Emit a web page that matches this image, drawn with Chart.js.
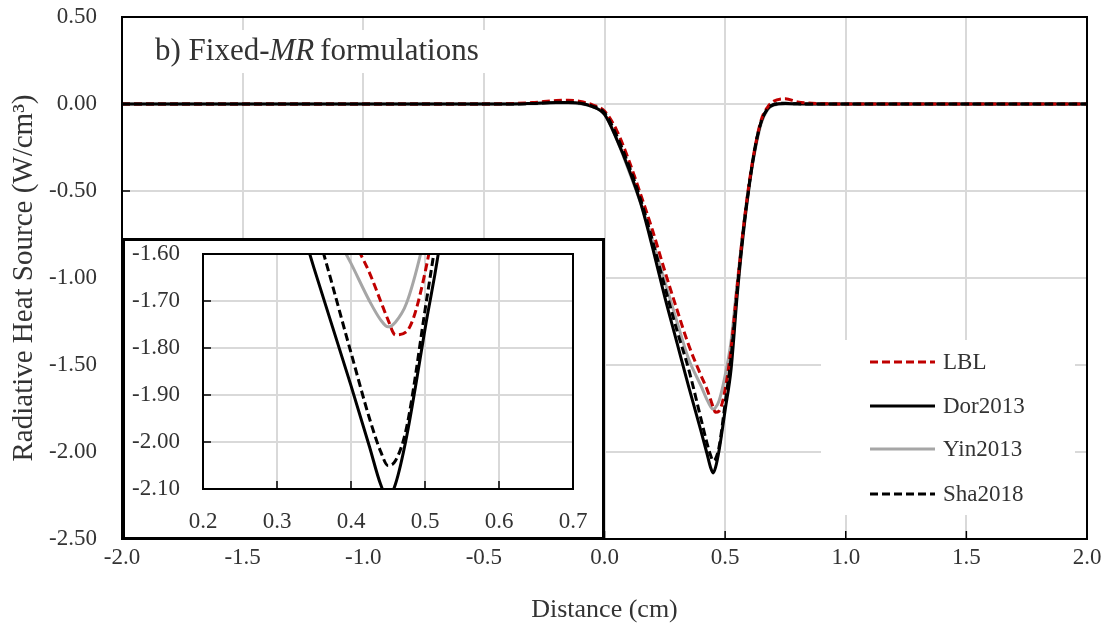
<!DOCTYPE html>
<html>
<head>
<meta charset="utf-8">
<script src="https://cdn.jsdelivr.net/npm/chart.js@4.4.1/dist/chart.umd.min.js"></script>
<style>
  html, body { margin: 0; padding: 0; background: #fff; }
  #wrap { position: relative; width: 1112px; height: 626px; }
  #mainChart { position: absolute; left: 0; top: 0; }
  #insetChart { position: absolute; left: 122px; top: 238px; }
</style>
</head>
<body>
<div id="wrap">
  <canvas id="mainChart" width="1112" height="626"></canvas>
  <canvas id="insetChart" width="483" height="302"></canvas>
</div>
<script>
// Distância (cm) - eixo x comum
const distancia = [-2.0, -1.5, -1.0, -0.5, -0.4, -0.3, -0.2, -0.15, -0.1, -0.05, 0.0, 0.05, 0.1, 0.15, 0.2, 0.25, 0.3, 0.35, 0.4, 0.425, 0.44, 0.45, 0.46, 0.475, 0.5, 0.525, 0.55, 0.575, 0.6, 0.625, 0.65, 0.675, 0.7, 0.75, 0.8, 0.9, 1.0, 1.5, 2.0];

// Fonte de calor radiativa (W/cm3) por formulação
const lbl     = [0, 0, 0, 0, 0.002, 0.008, 0.02, 0.022, 0.015, -0.005, -0.04, -0.15, -0.32, -0.52, -0.73, -0.96, -1.18, -1.39, -1.56, -1.64, -1.70, -1.74, -1.772, -1.765, -1.64, -1.40, -1.05, -0.72, -0.45, -0.24, -0.09, -0.02, 0.015, 0.03, 0.012, 0.002, 0, 0, 0];
const dor2013 = [0, 0, 0, 0, 0, 0.003, 0.008, 0.008, 0.004, -0.015, -0.06, -0.2, -0.37, -0.57, -0.83, -1.11, -1.37, -1.63, -1.88, -2.01, -2.09, -2.12, -2.09, -1.99, -1.76, -1.52, -1.1, -0.75, -0.47, -0.25, -0.1, -0.03, -0.005, 0.003, 0.001, 0, 0, 0, 0];
const yin2013 = [0, 0, 0, 0, 0, 0.002, 0.005, 0.005, 0.002, -0.015, -0.06, -0.2, -0.38, -0.57, -0.79, -1.02, -1.25, -1.47, -1.62, -1.70, -1.74, -1.755, -1.745, -1.705, -1.56, -1.36, -1.03, -0.72, -0.46, -0.26, -0.11, -0.035, -0.008, 0, 0, 0, 0, 0, 0];
const sha2018 = [0, 0, 0, 0, 0, 0.003, 0.01, 0.01, 0.005, -0.012, -0.05, -0.18, -0.35, -0.55, -0.79, -1.05, -1.3, -1.53, -1.81, -1.95, -2.02, -2.05, -2.04, -1.97, -1.72, -1.45, -1.07, -0.73, -0.46, -0.24, -0.1, -0.03, -0.003, 0.004, 0.001, 0, 0, 0, 0];

const nomes = ['LBL', 'Dor2013', 'Yin2013', 'Sha2018'];

Chart.defaults.font.family = "'Liberation Serif', 'Times New Roman', serif";
Chart.defaults.font.size = 23;
Chart.defaults.color = '#333';

const estilos = {
    'LBL':     { cor: '#c00000', dash: [8, 4], ordem: 1 },
    'Dor2013': { cor: '#000000', dash: [],     ordem: 2 },
    'Yin2013': { cor: '#a6a6a6', dash: [],     ordem: 3 },
    'Sha2018': { cor: '#000000', dash: [8, 4], ordem: 0 }
};
const valores = { 'LBL': lbl, 'Dor2013': dor2013, 'Yin2013': yin2013, 'Sha2018': sha2018 };

function criarSeries() {
    return nomes.map(nome => ({
        label: nome,
        data: distancia.map((x, i) => ({ x: x, y: valores[nome][i] })),
        borderColor: estilos[nome].cor,
        borderWidth: 3,
        borderDash: estilos[nome].dash,
        pointRadius: 0,
        cubicInterpolationMode: 'monotone',
        fill: false,
        order: estilos[nome].ordem
    }));
}

const corGrade = '#d9d9d9';

// grade com "tick" invisível usado só como afastamento dos rótulos
function grade(afastamento) {
    return { color: corGrade, lineWidth: 2, drawTicks: true, tickLength: afastamento, tickColor: 'rgba(0,0,0,0)' };
}

// Marcas de escala para dentro + moldura da área do gráfico
function pluginMoldura(tam) {
    return {
        id: 'moldura',
        afterDatasetsDraw(chart) {
            const { ctx, chartArea: a, scales: { x, y } } = chart;
            ctx.save();
            ctx.strokeStyle = '#000';
            ctx.lineWidth = 1.5;
            x.ticks.forEach(t => {
                const px = x.getPixelForValue(t.value);
                ctx.beginPath(); ctx.moveTo(px, a.bottom); ctx.lineTo(px, a.bottom - tam); ctx.stroke();
            });
            y.ticks.forEach(t => {
                const py = y.getPixelForValue(t.value);
                ctx.beginPath(); ctx.moveTo(a.left, py); ctx.lineTo(a.left + tam, py); ctx.stroke();
            });
            ctx.restore();
        },
        afterDraw(chart) {
            const { ctx, chartArea: a } = chart;
            ctx.save();
            ctx.strokeStyle = '#000';
            ctx.lineWidth = 2;
            ctx.strokeRect(a.left, a.top, a.right - a.left, a.bottom - a.top);
            ctx.restore();
        }
    };
}

// Título interno e legenda
const pluginTituloLegenda = {
    id: 'tituloLegenda',
    afterDatasetsDraw(chart) {
        const ctx = chart.ctx;
        ctx.save();
        // caixa do título
        ctx.fillStyle = '#fff';
        ctx.fillRect(140, 30, 355, 43);
        ctx.fillStyle = '#333';
        ctx.textBaseline = 'alphabetic';
        let x = 155;
        const base = 60;
        ctx.font = "31px 'Liberation Serif'";
        ctx.fillText('b) Fixed-', x, base);
        x += ctx.measureText('b) Fixed-').width;
        ctx.font = "italic 31px 'Liberation Serif'";
        ctx.fillText('MR', x, base);
        x += ctx.measureText('MR').width + 6;
        ctx.font = "31px 'Liberation Serif'";
        ctx.fillText('formulations', x, base);

        // legenda
        ctx.fillStyle = '#fff';
        ctx.fillRect(821, 340, 254, 175);
        const linhas = [362, 406, 449, 494];
        nomes.forEach((nome, i) => {
            const y = linhas[i];
            ctx.beginPath();
            ctx.strokeStyle = estilos[nome].cor;
            ctx.lineWidth = 3;
            ctx.setLineDash(estilos[nome].dash);
            ctx.moveTo(870, y); ctx.lineTo(935, y);
            ctx.stroke();
            ctx.setLineDash([]);
            ctx.fillStyle = '#333';
            ctx.font = "23px 'Liberation Serif'";
            ctx.textBaseline = 'middle';
            ctx.fillText(nome, 943, y + 1);
        });
        ctx.restore();
    }
};

// Gráfico principal
new Chart(document.getElementById('mainChart'), {
    type: 'line',
    data: { datasets: criarSeries() },
    options: {
        responsive: false,
        animation: false,
        layout: { padding: { top: 17, right: 25, left: 0, bottom: 0 } },
        plugins: { legend: { display: false }, tooltip: { enabled: false } },
        scales: {
            x: {
                type: 'linear', min: -2, max: 2,
                afterFit: s => { s.height = 87; },
                grid: grade(5),
                border: { display: false },
                ticks: { stepSize: 0.5, padding: 0, callback: v => v.toFixed(1) },
                title: { display: true, text: 'Distance (cm)', font: { size: 26 }, padding: { top: 0, bottom: 0 } }
            },
            y: {
                min: -2.5, max: 0.5,
                afterFit: s => { s.width = 122; },
                grid: grade(25),
                border: { display: false },
                ticks: { stepSize: 0.5, padding: 0, callback: v => v.toFixed(2) },
                title: { display: true, text: 'Radiative Heat Source (W/cm³)', font: { size: 29 }, padding: { top: 7, bottom: 0 } }
            }
        }
    },
    plugins: [pluginMoldura(8), pluginTituloLegenda]
});

// Gráfico de detalhe (zoom no mínimo)
const pluginCaixaDetalhe = {
    id: 'caixaDetalhe',
    beforeDraw(chart) {
        const ctx = chart.ctx;
        ctx.save();
        ctx.fillStyle = '#fff';
        ctx.fillRect(0, 0, chart.width, chart.height);
        ctx.restore();
    },
    afterDraw(chart) {
        const ctx = chart.ctx;
        ctx.save();
        ctx.strokeStyle = '#000';
        ctx.lineWidth = 3;
        ctx.strokeRect(1.5, 1.5, chart.width - 3, chart.height - 3);
        ctx.restore();
    }
};

new Chart(document.getElementById('insetChart'), {
    type: 'line',
    data: { datasets: criarSeries() },
    options: {
        responsive: false,
        animation: false,
        layout: { padding: { top: 16, right: 32, left: 0, bottom: 0 } },
        plugins: { legend: { display: false }, tooltip: { enabled: false } },
        scales: {
            x: {
                type: 'linear', min: 0.2, max: 0.7,
                afterFit: s => { s.height = 51; },
                grid: grade(19),
                border: { display: false },
                ticks: { stepSize: 0.1, padding: 0, callback: v => v.toFixed(1) }
            },
            y: {
                min: -2.1, max: -1.6,
                afterFit: s => { s.width = 81; },
                grid: grade(23),
                border: { display: false },
                ticks: { stepSize: 0.1, padding: 0, callback: v => v.toFixed(2) }
            }
        }
    },
    plugins: [pluginCaixaDetalhe, pluginMoldura(8)]
});
</script>
</body>
</html>
